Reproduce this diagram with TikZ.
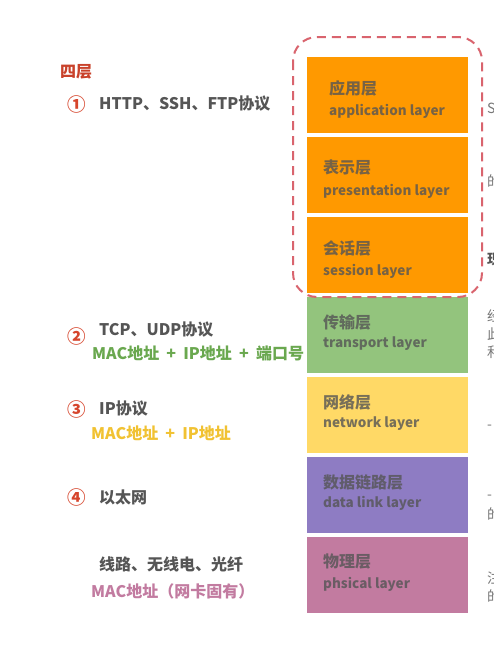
\documentclass[tikz,border=0pt]{standalone}
\usepackage{fontspec}
\setmainfont{Noto Sans CJK SC}
\usetikzlibrary{calc}
\definecolor{orangeL}{HTML}{FF9900}
\definecolor{greenL}{HTML}{93C47D}
\definecolor{yellowL}{HTML}{FFD966}
\definecolor{purpleL}{HTML}{8E7CC3}
\definecolor{pinkL}{HTML}{C27BA0}
\definecolor{txtgray}{HTML}{555555}
\definecolor{numred}{HTML}{D6452C}
\definecolor{headred}{HTML}{C9422B}
\definecolor{greenT}{HTML}{6AA84F}
\definecolor{yellowT}{HTML}{F1C232}
\definecolor{pinkT}{HTML}{C27BA0}
\definecolor{dashred}{HTML}{D9646E}
\newcommand{\plussep}{~\hspace{3.5pt}+\hspace{3.5pt}~}
\begin{document}
\begin{tikzpicture}[x=1pt,y=-1pt,
  layer/.style={draw=none,minimum width=161pt,minimum height=76pt,anchor=north west,inner sep=0pt,outer sep=0pt},
  cnlab/.style={anchor=west,inner sep=0pt,font=\bfseries\fontsize{16}{16}\selectfont,text=txtgray,text opacity=0.8},
  enlab/.style={anchor=west,inner sep=0pt,font=\bfseries\fontsize{13.5}{14}\selectfont,text=txtgray,text opacity=0.8},
  lefttxt/.style={anchor=west,inner sep=0pt,font=\bfseries\fontsize{16}{16}\selectfont,text=txtgray},
  numtxt/.style={anchor=west,inner sep=0pt,font=\bfseries\fontsize{18.5}{18}\selectfont,text=numred},
  edgetxt/.style={anchor=west,inner sep=0pt,font=\fontsize{14}{14}\selectfont,text=txtgray!80}
]
\useasboundingbox (0,0) rectangle (494,653);
\fill[white] (0,0) rectangle (494,653);
\clip (0,0) rectangle (494,653);

% layer boxes
\node[layer,fill=orangeL] (app) at (307,57) {};
\node[layer,fill=orangeL] (pres) at (307,137) {};
\node[layer,fill=orangeL] (sess) at (307,217) {};
\node[layer,fill=greenL] (trans) at (307,297) {};
\node[layer,fill=yellowL] (net) at (307,377) {};
\node[layer,fill=purpleL] (link) at (307,457) {};
\node[layer,fill=pinkL] (phys) at (307,537) {};

% box labels
\node[cnlab] (appcn) at ($(app.north west)+(22,31)$) {应用层};
\node[enlab] (appen) at ($(app.north west)+(22,54)$) {application layer};
\node[cnlab] (prescn) at ($(pres.north west)+(16,31)$) {表示层};
\node[enlab] (presen) at ($(pres.north west)+(16,54)$) {presentation layer};
\node[cnlab] (sesscn) at ($(sess.north west)+(16,31)$) {会话层};
\node[enlab] (sessen) at ($(sess.north west)+(16,54)$) {session layer};
\node[cnlab] (transcn) at ($(trans.north west)+(16,25)$) {传输层};
\node[enlab] (transen) at ($(trans.north west)+(16,47)$) {transport layer};
\node[cnlab] (netcn) at ($(net.north west)+(16,25)$) {网络层};
\node[enlab] (neten) at ($(net.north west)+(16,47)$) {network layer};
\node[cnlab] (linkcn) at ($(link.north west)+(16,25)$) {数据链路层};
\node[enlab] (linken) at ($(link.north west)+(16,46)$) {data link layer};
\node[cnlab] (physcn) at ($(phys.north west)+(16,25)$) {物理层};
\node[enlab] (physen) at ($(phys.north west)+(16,47)$) {phsical layer};

% dashed group
\draw[dashred,line width=2pt,dash pattern=on 9pt off 6pt,rounded corners=24pt]
  (293,37) rectangle (482,297);

% left texts
\node[anchor=west,inner sep=0pt,font=\bfseries\fontsize{16}{16}\selectfont,text=headred] (head) at (60,72) {四层};
\node[numtxt] (n1) at (67,104) {①};
\node[lefttxt] (t1) at (99,104) {HTTP、SSH、FTP协议};
\node[numtxt] (n2) at (67,336) {②};
\node[lefttxt] (t2) at (99,330) {TCP、UDP协议};
\node[lefttxt,text=greenT] (t2b) at (92,353) {MAC地址\plussep IP地址\plussep 端口号};
\node[numtxt] (n3) at (67,409) {③};
\node[lefttxt] (t3) at (99,409) {IP协议};
\node[lefttxt,text=yellowT] (t3b) at (91,433) {MAC地址\plussep IP地址};
\node[numtxt] (n4) at (67,497) {④};
\node[lefttxt] (t4) at (99,497) {以太网};
\node[lefttxt] (t5) at (99,564) {线路、无线电、光纤};
\node[lefttxt,text=pinkT] (t5b) at (91,591) {MAC地址（网卡固有）};

% cut-off text at the right edge (as in the reference)
\node[edgetxt] (e1) at (487,108) {S};
\node[edgetxt] (e2) at (487,181) {的};
\node[edgetxt,text=txtgray,font=\bfseries\fontsize{14}{14}\selectfont] (e3) at (487,259) {现};
\node[edgetxt] (e4) at (487,316) {经};
\node[edgetxt] (e5) at (487,334) {此};
\node[edgetxt] (e6) at (487,352) {和};
\node[edgetxt] (e7) at (487,427) {-};
\node[edgetxt] (e8) at (487,497) {-};
\node[edgetxt] (e9) at (487,514) {的};
\node[edgetxt] (e10) at (487,578) {注};
\node[edgetxt] (e11) at (487,596) {的};
\end{tikzpicture}
\end{document}
